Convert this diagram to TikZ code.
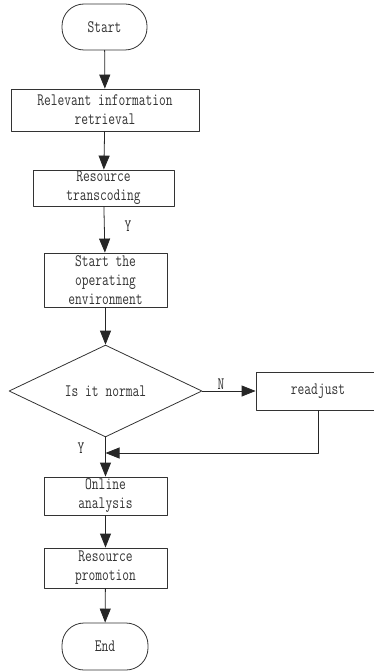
\documentclass[tikz,border=0pt]{standalone}
\usepackage{fontspec}
\usetikzlibrary{arrows.meta,shapes.geometric}
\newfontfamily\flowfont[FakeStretch=0.75]{Latin Modern Mono}
\tikzset{
  flow/.style={-{Triangle[length=14pt,width=11pt]},black!85,line width=0.8pt},
  stepbox/.style={rectangle,draw=black!80,line width=0.8pt,align=center,inner sep=0pt,
    font=\flowfont\fontsize{17.5}{19}\selectfont,text=black!80},
  termbox/.style={stepbox,rounded corners=22pt},
  askbox/.style={diamond,draw=black!80,line width=0.8pt,inner sep=0pt,
    font=\flowfont\fontsize{17.5}{19}\selectfont,text=black!80},
  tag/.style={font=\flowfont\fontsize{17.5}{19}\selectfont,text=black!80}
}

\begin{document}
\begin{tikzpicture}[line cap=round,line join=round,x=1pt,y=-1pt]
    \useasboundingbox (0,0) rectangle (374,671);

    % Boxes of the flow
    \draw(104.5,27) node[termbox,minimum width=85pt,minimum height=46pt] (start) {Start};
    \draw(105,110) node[stepbox,minimum width=188pt,minimum height=42pt] (info) {Relevant information\\retrieval};
    \draw(103.5,188) node[stepbox,minimum width=141pt,minimum height=36pt] (trans) {Resource\\transcoding};
    \draw(105.5,280) node[stepbox,minimum width=123pt,minimum height=54pt] (env) {Start the\\operating\\environment};
    \draw(105.5,391) node[askbox,minimum width=193pt,minimum height=80pt] (normal) {Is it normal};
    \draw(318,391) node[stepbox,minimum width=124pt,minimum height=38pt] (readj) {readjust};
    \draw(105.5,496) node[stepbox,minimum width=123pt,minimum height=38pt] (online) {Online\\analysis};
    \draw(105.5,568) node[stepbox,minimum width=123pt,minimum height=40pt] (promo) {Resource\\promotion};
    \draw(105,646.5) node[termbox,minimum width=86pt,minimum height=47pt] (end) {End};
    \coordinate (back) at (105.5,453);

    % Connectors
    \foreach \source/\target in {start/info, info/trans, trans/env, env/normal, normal/online, online/promo, promo/end, normal/readj} {
            \draw[flow] (\source) -- (\target);
        }
    \draw[flow] (readj.south) |- (back);

    % Branch labels
    \draw (128,226) node[tag] (y1) {Y};
    \draw (221,384) node[tag] (n1) {N};
    \draw (81,448) node[tag] (y2) {Y};
\end{tikzpicture}
\end{document}
